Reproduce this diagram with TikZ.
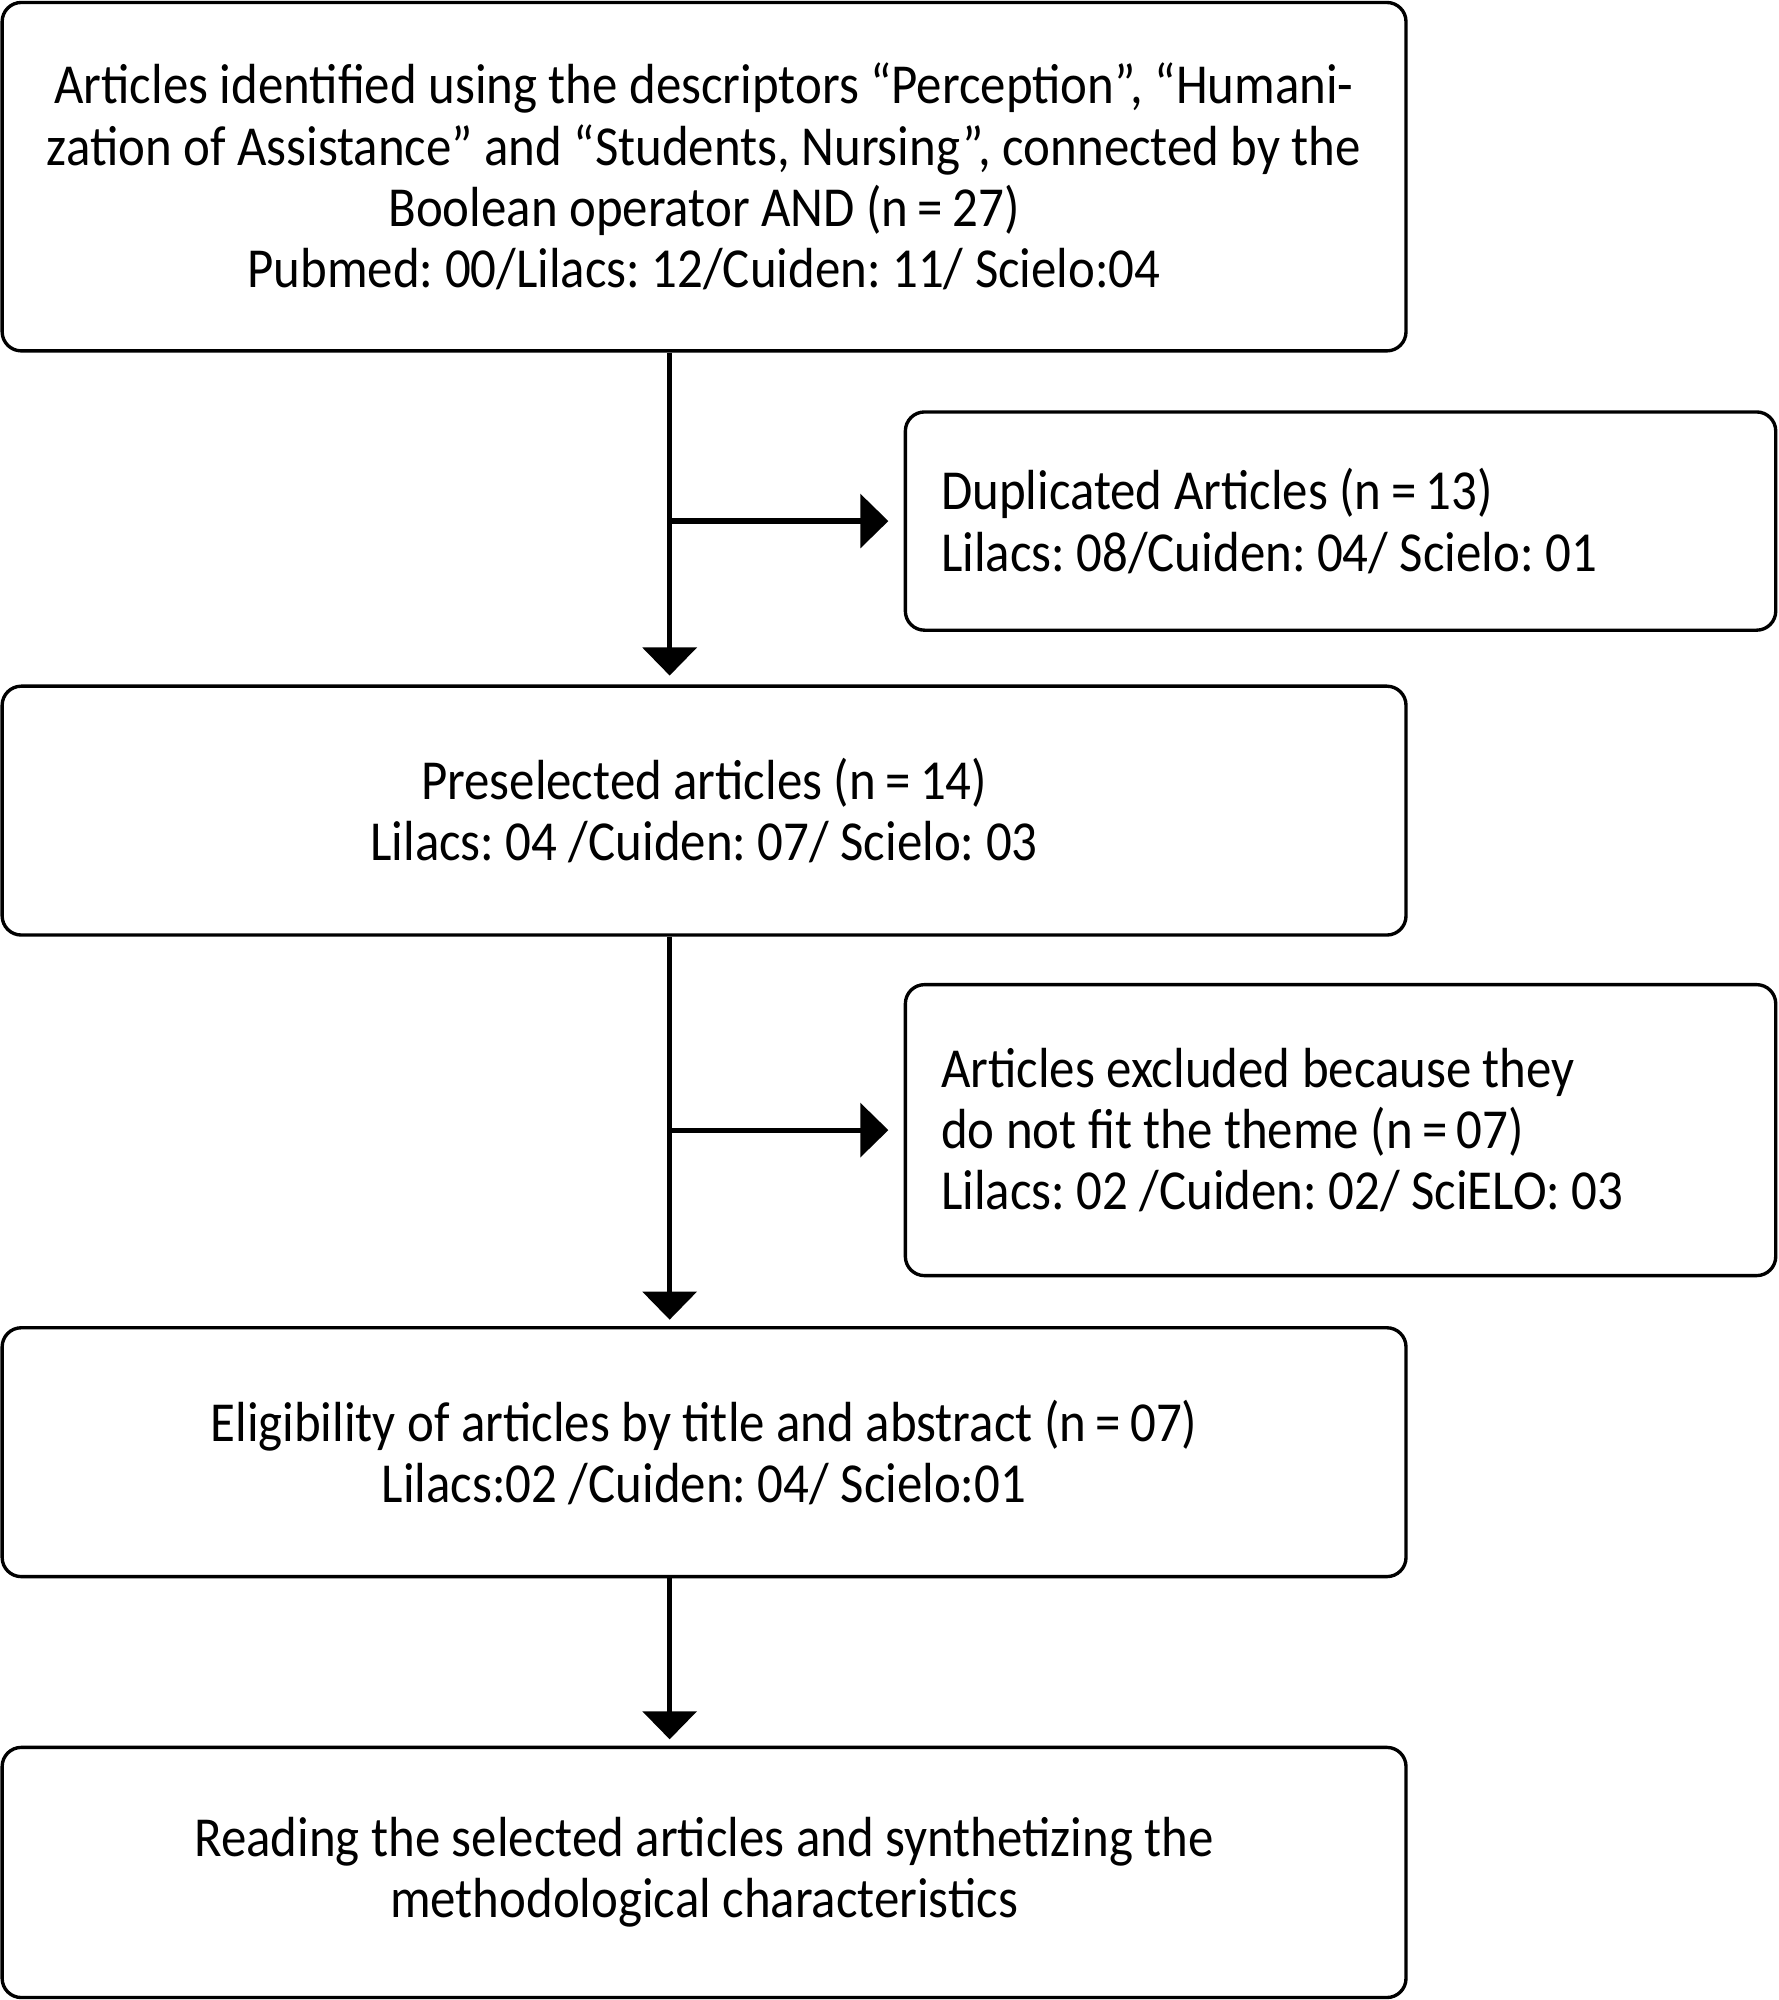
\documentclass[tikz,border=0pt]{standalone}
\usepackage{fontspec}
\setmainfont{Carlito}[FakeStretch=0.9]
\usetikzlibrary{arrows.meta}
\frenchspacing
\begin{document}
\begin{tikzpicture}[x=0.01cm,y=-0.01cm,
  box/.style={draw, line width=0.75pt, rounded corners=0.15cm, inner sep=0pt,
    font=\fontsize{12.6}{13.66}\selectfont},
  flow/.style={line width=1.15pt, -{Triangle[width=0.42cm,length=0.22cm]}}]
\useasboundingbox (0,0) rectangle (1394,1568);
\node[box, align=center, minimum width=11cm, minimum height=2.73cm] (b1) at (552,138.5)
  {Articles identified using the descriptors “Perception”, “Humani-\\
   zation of Assistance” and “Students, Nursing”, connected by the\\
   Boolean operator AND (n\,=\,27)\\
   Pubmed: 00/Lilacs: 12/Cuiden: 11/ Scielo:04};
\node[box, align=flush left, text width=6.26cm, inner xsep=0.28cm, minimum height=1.71cm] (dup) at (1051,408.5)
  {Duplicated Articles (n\,=\,13)\\
   Lilacs: 08/Cuiden: 04/ Scielo: 01};
\node[box, align=center, minimum width=11cm, minimum height=1.95cm] (b2) at (552,635.5)
  {Preselected articles (n\,=\,14)\\
   Lilacs: 04 /Cuiden: 07/ Scielo: 03};
\node[box, align=flush left, text width=6.26cm, inner xsep=0.28cm, minimum height=2.28cm] (exc) at (1051,886)
  {Articles excluded because they\\
   do not fit the theme (n\,=\,07)\\
   Lilacs: 02 /Cuiden: 02/ SciELO: 03};
\node[box, align=center, minimum width=11cm, minimum height=1.95cm] (b3) at (552,1138.5)
  {Eligibility of articles by title and abstract (n\,=\,07)\\
   Lilacs:02 /Cuiden: 04/ Scielo:01};
\node[box, align=center, minimum width=11cm, minimum height=1.96cm] (b4) at (552,1468)
  {Reading the selected articles and synthetizing the\\
   methodological characteristics};
\coordinate (ax) at (525,0);
\draw[flow, shorten >=0.07cm] (ax |- b1.south) -- (ax |- b2.north);
\draw[flow, shorten >=0.12cm] (ax |- dup.west) -- (dup.west);
\draw[flow, shorten >=0.05cm] (ax |- b2.south) -- (ax |- b3.north);
\draw[flow, shorten >=0.12cm] (ax |- exc.west) -- (exc.west);
\draw[flow, shorten >=0.05cm] (ax |- b3.south) -- (ax |- b4.north);
\end{tikzpicture}
\end{document}
